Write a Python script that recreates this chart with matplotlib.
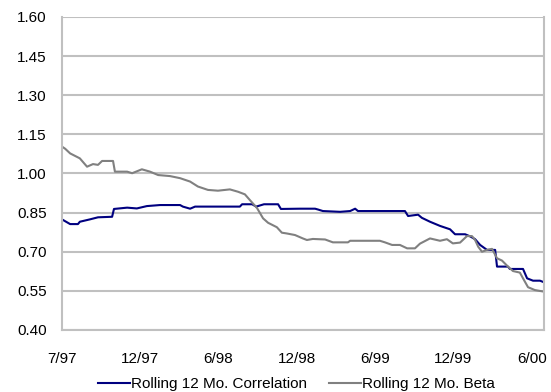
import numpy as np
import matplotlib.pyplot as plt

# weeks since 7/97
corr_wk = [0, 2.6, 5.1, 5.7, 8.9, 11.5, 16, 16.6, 20.8, 23.9, 27.1, 31.3, 37.7, 38.6,
           40.9, 42.5, 56.8, 57.5, 60.7, 62, 64.5, 69, 69.9, 76, 80.8, 81.7, 83.3,
           88.8, 92, 93.6, 94.5, 109.5, 110.5, 113.7, 114.9, 117.5, 120.7, 123.9,
           125.5, 128.7, 130.3, 131.9, 133.5, 135.7, 138.3, 138.9, 142.4, 143,
           147.2, 148.5, 150.4, 152.6, 153.9]
corr = [0.824, 0.806, 0.806, 0.815, 0.824, 0.832, 0.834, 0.864, 0.869, 0.866, 0.875,
        0.879, 0.879, 0.873, 0.865, 0.873, 0.873, 0.882, 0.882, 0.873, 0.882, 0.882,
        0.864, 0.865, 0.865, 0.862, 0.856, 0.853, 0.856, 0.865, 0.856, 0.856, 0.837,
        0.842, 0.830, 0.815, 0.799, 0.786, 0.767, 0.767, 0.759, 0.748, 0.726, 0.707,
        0.707, 0.643, 0.643, 0.634, 0.634, 0.598, 0.589, 0.589, 0.583]

beta_wk = [0, 1, 2.6, 5.7, 8, 9.9, 11.5, 12.8, 16.3, 16.9, 20.8, 22.4, 25.5, 28.1,
           30.7, 34.5, 37.7, 40.9, 43.4, 46.6, 49.8, 53.6, 56.2, 58.4, 60, 62.3,
           64.2, 65.8, 68.6, 70.2, 71.8, 74.4, 76.9, 78.2, 80.1, 84, 86.5, 91.3, 92,
           101.5, 103.1, 105.4, 107.9, 110.2, 112.7, 114.3, 117.5, 120.7, 122.9,
           124.8, 127.1, 129.3, 130.9, 131.9, 132.9, 134.1, 135.7, 137.3, 138.9,
           140.5, 142.4, 144, 146.2, 147.2, 148.8, 151, 153.9]
beta = [1.103, 1.095, 1.077, 1.058, 1.026, 1.036, 1.033, 1.048, 1.048, 1.007, 1.007,
        1.001, 1.016, 1.007, 0.994, 0.990, 0.982, 0.969, 0.950, 0.937, 0.934, 0.939,
        0.930, 0.920, 0.898, 0.867, 0.828, 0.811, 0.794, 0.773, 0.770, 0.764, 0.751,
        0.745, 0.749, 0.747, 0.736, 0.736, 0.742, 0.742, 0.736, 0.726, 0.726, 0.713,
        0.713, 0.731, 0.751, 0.742, 0.748, 0.732, 0.735, 0.760, 0.760, 0.745, 0.719,
        0.700, 0.707, 0.711, 0.675, 0.666, 0.643, 0.626, 0.620, 0.598, 0.564, 0.553,
        0.547]

tick_labels = ['7/97', '12/97', '6/98', '12/98', '6/99', '12/99', '6/00']
tick_wk = [0, 25, 50, 75, 100, 125, 150]

plt.rcParams['font.family'] = ['Liberation Sans', 'DejaVu Sans']

fig = plt.figure(figsize=(5.51, 3.92), dpi=100)
ax = fig.add_axes([0.1125, 0.1582, 0.8748, 0.7985])

ax.plot(corr_wk, corr, color='#000080', lw=1.5, label='Rolling 12 Mo. Correlation')
ax.plot(beta_wk, beta, color='#808080', lw=1.5, label='Rolling 12 Mo. Beta')

ax.set_xlim(0, 153.9)
ax.set_ylim(0.40, 1.60)
ax.set_yticks(np.arange(0.40, 1.61, 0.15))
ax.set_yticklabels(['%.2f' % v for v in np.arange(0.40, 1.61, 0.15)])
ax.set_xticks(tick_wk)
ax.set_xticklabels(tick_labels)
ax.tick_params(axis='y', length=0, pad=11, labelsize=11)
ax.tick_params(axis='x', length=0, pad=16, labelsize=11)

ax.grid(axis='y', color='#c0c0c0', lw=1.5)
ax.set_axisbelow(True)
for s in ['left', 'bottom', 'right']:
    ax.spines[s].set_color('#c0c0c0')
    ax.spines[s].set_linewidth(1.5)
ax.spines['top'].set_visible(False)

fig.legend(loc='center', bbox_to_anchor=(0.538, 0.02), ncol=2, frameon=False,
           fontsize=11, handlelength=2.1, handletextpad=0.1, columnspacing=1.4)

fig.savefig('out.png', dpi=100)
